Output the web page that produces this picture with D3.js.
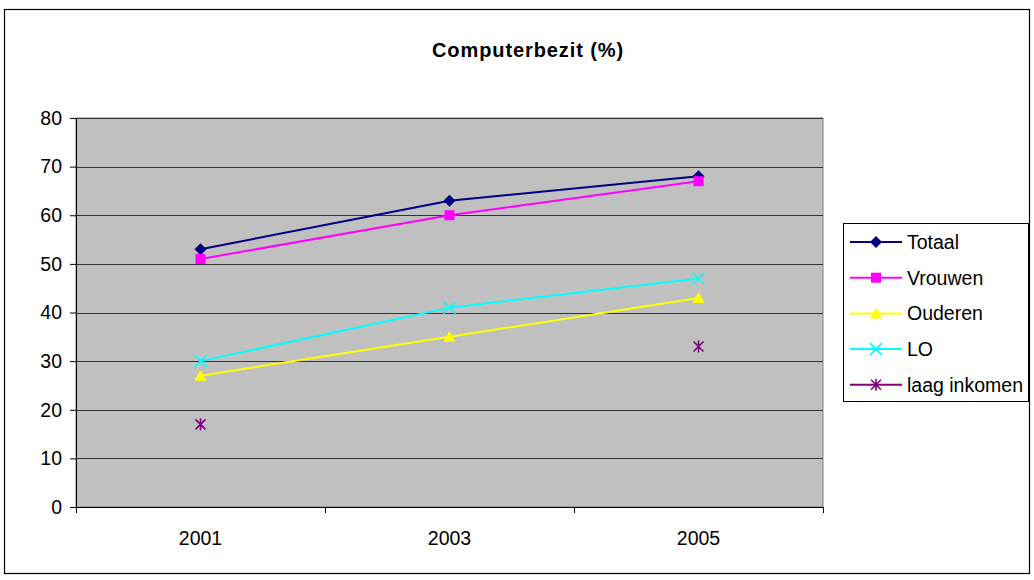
<!DOCTYPE html>
<html>
<head>
<meta charset="utf-8">
<script src="https://cdn.jsdelivr.net/npm/d3@7"></script>
<style>
  body { margin: 0; background: #fff; }
  svg { display: block; font-family: "Liberation Sans", Arial, sans-serif; }
</style>
</head>
<body>
<svg id="chart" width="1034" height="580"></svg>
<script>
// Survey years and computer ownership per group (%)
const years = ["2001", "2003", "2005"];
const totaal = [53, 63, 68];
const vrouwen = [51, 60, 67];
const ouderen = [27, 35, 43];
const lo = [30, 41, 47];
const laagInkomen = [17, null, 33];
const yTicks = [0, 10, 20, 30, 40, 50, 60, 70, 80];

const series = [
  { name: "Totaal", values: totaal, color: "#000080", marker: "diamond" },
  { name: "Vrouwen", values: vrouwen, color: "#FF00FF", marker: "square" },
  { name: "Ouderen", values: ouderen, color: "#FFFF00", marker: "triangle" },
  { name: "LO", values: lo, color: "#00FFFF", marker: "cross" },
  { name: "laag inkomen", values: laagInkomen, color: "#800080", marker: "asterisk" }
];

const FONT = 19.5;
const svg = d3.select("#chart");

// Outer chart frame
svg.append("rect")
  .attr("x", 4.5).attr("y", 9.5)
  .attr("width", 1025).attr("height", 564)
  .attr("fill", "#fff").attr("stroke", "#000").attr("stroke-width", 1.2);

svg.append("text")
  .attr("x", 528).attr("y", 57)
  .attr("text-anchor", "middle")
  .attr("font-size", 20).attr("font-weight", "bold")
  .attr("letter-spacing", 0.9)
  .text("Computerbezit (%)");

const plot = { left: 76, right: 823, top: 118, bottom: 507 };

const x = d3.scaleBand().domain(years).range([plot.left, plot.right]);
const y = d3.scaleLinear().domain([0, 80]).range([plot.bottom, plot.top]);

// Plot background
svg.append("rect")
  .attr("x", plot.left).attr("y", plot.top)
  .attr("width", plot.right - plot.left).attr("height", plot.bottom - plot.top)
  .attr("fill", "#C0C0C0").attr("stroke", "#808080").attr("stroke-width", 1);

// Horizontal gridlines
svg.append("g")
  .selectAll("line")
  .data(yTicks.filter(d => d > 0))
  .join("line")
  .attr("x1", plot.left).attr("x2", plot.right)
  .attr("y1", d => Math.round(y(d)) + 0.5).attr("y2", d => Math.round(y(d)) + 0.5)
  .attr("stroke", "#333").attr("stroke-width", 1.2);

// Y axis
const yAxis = svg.append("g")
  .attr("transform", `translate(${plot.left},0)`)
  .call(d3.axisLeft(y).tickValues(yTicks).tickSize(6).tickPadding(8));
yAxis.select(".domain").attr("stroke", "#000");
yAxis.selectAll(".tick line").attr("stroke", "#000");
yAxis.selectAll("text").attr("font-size", FONT).attr("fill", "#000")
  .attr("font-family", "Liberation Sans, Arial, sans-serif");

// X axis with ticks at category boundaries
const xAxis = svg.append("g")
  .attr("transform", `translate(0,${plot.bottom})`);
xAxis.append("line")
  .attr("x1", plot.left).attr("x2", plot.right)
  .attr("y1", 0.5).attr("y2", 0.5).attr("stroke", "#000");
const boundaries = years.map(d => x(d)).concat([x(years[years.length - 1]) + x.bandwidth()]);
xAxis.selectAll("line.tk")
  .data(boundaries)
  .join("line").attr("class", "tk")
  .attr("x1", d => Math.round(d) + 0.5).attr("x2", d => Math.round(d) + 0.5)
  .attr("y1", 0).attr("y2", 6).attr("stroke", "#000");
xAxis.selectAll("text")
  .data(years)
  .join("text")
  .attr("x", d => x(d) + x.bandwidth() / 2)
  .attr("y", 38)
  .attr("text-anchor", "middle")
  .attr("font-size", FONT)
  .text(d => d);

// Marker drawing
function drawMarker(g, type, color, cx, cy) {
  const s = 5;
  if (type === "diamond") {
    g.append("path")
      .attr("d", `M${cx},${cy - s - 1}L${cx + s + 1},${cy}L${cx},${cy + s + 1}L${cx - s - 1},${cy}Z`)
      .attr("fill", color);
  } else if (type === "square") {
    g.append("rect").attr("x", cx - s).attr("y", cy - s)
      .attr("width", 2 * s).attr("height", 2 * s).attr("fill", color);
  } else if (type === "triangle") {
    g.append("path")
      .attr("d", `M${cx},${cy - s - 1}L${cx + s + 1},${cy + s}L${cx - s - 1},${cy + s}Z`)
      .attr("fill", color);
  } else if (type === "cross") {
    g.append("path")
      .attr("d", `M${cx - s - 1},${cy - s - 1}L${cx + s + 1},${cy + s + 1}M${cx - s - 1},${cy + s + 1}L${cx + s + 1},${cy - s - 1}`)
      .attr("stroke", color).attr("stroke-width", 1.6).attr("fill", "none");
  } else if (type === "asterisk") {
    g.append("path")
      .attr("d", `M${cx - s},${cy - s}L${cx + s},${cy + s}M${cx - s},${cy + s}L${cx + s},${cy - s}M${cx},${cy - s - 1}L${cx},${cy + s + 1}`)
      .attr("stroke", color).attr("stroke-width", 1.6).attr("fill", "none");
  }
}

const cxOf = d => x(d) + x.bandwidth() / 2;

// Series lines (broken where a year is missing) and markers
series.forEach(s => {
  const pts = years.map((yr, i) => ({ yr, v: s.values[i] }));
  const line = d3.line()
    .defined(d => d.v !== null)
    .x(d => cxOf(d.yr))
    .y(d => y(d.v));
  svg.append("path")
    .datum(pts)
    .attr("d", line)
    .attr("fill", "none")
    .attr("stroke", s.color)
    .attr("stroke-width", 2);
  const g = svg.append("g");
  pts.filter(d => d.v !== null).forEach(d => drawMarker(g, s.marker, s.color, cxOf(d.yr), y(d.v)));
});

// Legend
const legend = svg.append("g");
legend.append("rect")
  .attr("x", 843.5).attr("y", 223.5)
  .attr("width", 185).attr("height", 178)
  .attr("fill", "#fff").attr("stroke", "#000").attr("stroke-width", 1);
series.forEach((s, i) => {
  const ly = 242 + i * 35.7;
  legend.append("line")
    .attr("x1", 850).attr("x2", 902)
    .attr("y1", ly).attr("y2", ly)
    .attr("stroke", s.color).attr("stroke-width", 2);
  drawMarker(legend, s.marker, s.color, 876, ly);
  legend.append("text")
    .attr("x", 907).attr("y", ly + 7)
    .attr("font-size", FONT)
    .text(s.name);
});
</script>
</body>
</html>
